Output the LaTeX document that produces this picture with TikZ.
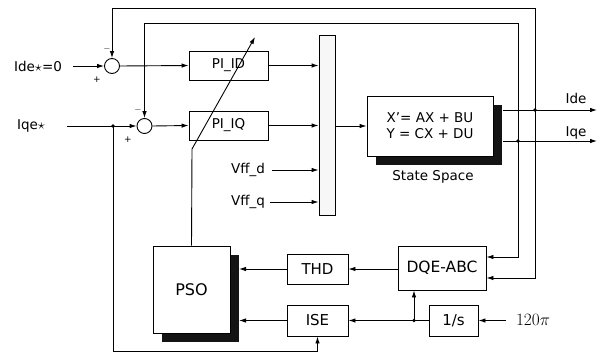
\documentclass[tikz,border=0pt]{standalone}
\usepackage{fontspec}
\setmainfont{DejaVu Sans}
\usetikzlibrary{arrows.meta,shadows,calc}
\begin{document}
\begin{tikzpicture}[x=1pt,y=-1pt,line width=0.9pt,
  every node/.style={font=\fontsize{13.5}{15}\selectfont},
  arr/.style={-{Latex[length=7pt,width=4.5pt]}},
  blk/.style={draw,fill=white,inner sep=0pt,line width=0.9pt},
  shad/.style={drop shadow={shadow xshift=9pt,shadow yshift=-9pt,fill=black!92,opacity=1}},
  sumc/.style={draw,circle,fill=white,minimum size=15pt,inner sep=0pt},
  sgn/.style={font=\fontsize{9}{10}\selectfont,inner sep=0pt},
  dot/.style={fill=black}]
\useasboundingbox (0,0) rectangle (607,353);

% blocks
\node[sumc] (s1) at (112,66) {};
\node[sumc] (s2) at (144.5,126) {};
\node[blk,minimum width=79pt,minimum height=29pt] (pid) at (228.5,65.5) {PI\_ID};
\node[blk,minimum width=79pt,minimum height=29pt] (piq) at (228.5,125.5) {PI\_IQ};
\node[blk,fill=black!3,minimum width=16pt,minimum height=180pt] (bar) at (327,125) {};
\node[blk,shad,minimum width=126pt,minimum height=60pt,align=center] (ss) at (430,126)
  {X'= AX + BU\\[1pt]Y = CX + DU};
\node (sslab) at (433,177) {State Space};
\node[blk,minimum width=88pt,minimum height=44pt,font=\fontsize{15.5}{17}\selectfont] (dqe) at (442,268) {DQE-ABC};
\node[blk,minimum width=61pt,minimum height=30pt,font=\fontsize{15}{17}\selectfont] (thd) at (317.5,269) {THD};
\node[blk,minimum width=61pt,minimum height=31pt,font=\fontsize{15}{17}\selectfont] (ise) at (317.5,320.5) {ISE};
\node[blk,minimum width=49pt,minimum height=31pt,font=\fontsize{15}{17}\selectfont] (ints) at (453.5,320.5) {1/s};
\node[blk,shad,minimum width=77pt,minimum height=87pt,font=\fontsize{16}{18}\selectfont] (pso) at (191.5,289.5) {PSO};

% texts
\node (ide) at (38,66) {Ide$\star$=0};
\node (iqe) at (31,126) {Iqe$\star$};
\node (vffd) at (248,170) {Vff\_d};
\node (vffq) at (248,202) {Vff\_q};
\node (idel) at (576,98) {Ide};
\node (iqel) at (576,133) {Iqe};
\node[font=\fontsize{18}{20}\selectfont] (pi) at (533,320) {$120\pi$};
\node[sgn] (m1) at (107,49) {$-$};
\node[sgn] (p1) at (97,80) {+};
\node[sgn] (m2) at (138,110) {$-$};
\node[sgn] (p2) at (128,140) {+};

% coordinates
\coordinate (ideS) at (73,66);
\coordinate (iqS) at (67,126);
\coordinate (j1) at (113,126);
\coordinate (vdS) at (272,170);
\coordinate (vqS) at (270,202);
\coordinate (ssR) at (503,126);
\coordinate (ideO) at (597,110);
\coordinate (iqeO) at (597,141);
\coordinate (jd) at (535,110);
\coordinate (jq) at (518,141);
\coordinate (top1) at (112,8);
\coordinate (top2) at (144.5,23);
\coordinate (psoR) at (239,269);
\coordinate (piS) at (506,320.5);
\coordinate (j2) at (414,320.5);
\coordinate (bot) at (317.5,351);
\coordinate (pbend) at (192,149);
\coordinate (ptip) at (255,37);

% connectors
\draw[arr] (ideS) -- (s1.west);
\draw[arr] (iqS) -- (s2.west);
\draw[arr] (s1.east) -- (pid.west);
\draw[arr] (s2.east) -- (piq.west);
\draw[arr] (pid.east) -- (bar.west |- pid.east);
\draw[arr] (piq.east) -- (bar.west |- piq.east);
\draw[arr] (vdS) -- (bar.west |- vdS);
\draw[arr] (vqS) -- (bar.west |- vqS);
\draw[arr] (bar.east |- ss.west) -- (ss.west);
\draw[arr] (ssR |- ideO) -- (ideO);
\draw[arr] (ssR |- iqeO) -- (iqeO);
\draw[arr] (jd) |- (top1) -- (s1.north);
\draw[arr] (jq) |- (top2) -- (s2.north);
\draw[arr] (jd) |- ($(dqe.east)+(0,10)$);
\draw[arr] (jq) |- ($(dqe.east)+(0,-11)$);
\draw[arr] (dqe.west |- thd.east) -- (thd.east);
\draw[arr] (thd.west) -- (psoR);
\draw[arr] (ise.west) -- (ise.west -| psoR);
\draw[arr] (piS) -- (ints.east);
\draw[arr] (ints.west) -- (ise.east);
\draw[arr] (j2) -- (j2 |- dqe.south);
\draw[arr] (j1) |- (bot) -- (ise.south);
\draw[arr] (pso.north) -- (pbend) -- (ptip);

% junction dots
\fill[dot] (j1) circle[radius=1.8pt];
\fill[dot] (jd) circle[radius=1.8pt];
\fill[dot] (jq) circle[radius=1.8pt];
\fill[dot] (j2) circle[radius=1.8pt];
\end{tikzpicture}
\end{document}
